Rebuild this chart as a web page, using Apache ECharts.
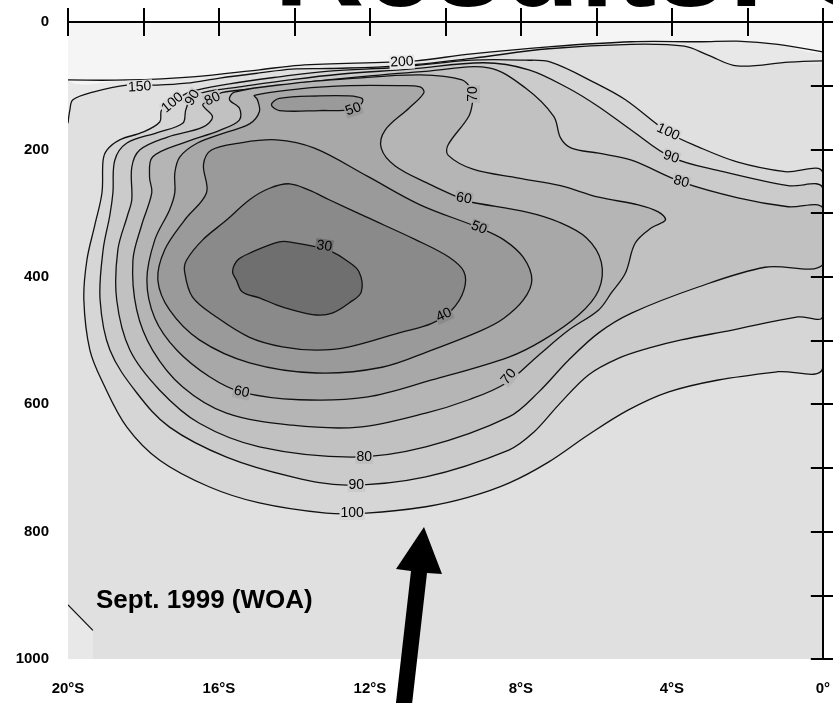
<!DOCTYPE html>
<html><head><meta charset="utf-8">
<script src="https://cdn.jsdelivr.net/npm/echarts@6/dist/echarts.min.js"></script>
<style>html,body{margin:0;padding:0;background:#fff}#c{width:833px;height:703px}</style>
</head><body><div id="c"></div>
<script>
// ---- axes ----
const latMin = -20, latMax = 0, depthMin = 0, depthMax = 1000;
const latTickValues = [-20, -16, -12, -8, -4, 0];
const latTickLabels = ['20°S', '16°S', '12°S', '8°S', '4°S', '0°'];
const depthTickLabels = [0, 200, 400, 600, 800, 1000];

// ---- contour lines [latitude, depth] ----
const c200 = [[-20,91],[-18.44,91],[-16.70,86],[-14.93,75],[-13.87,68],[-11.49,63],[-10.78,61],[-9.30,50],[-7.27,39],[-5.07,31],[-3.22,31],[-2.27,30],[-1.19,35],[0,47]];
const c150 = [[-20,159],[-19.95,138],[-19.87,122],[-19.34,110],[-18.44,99],[-17.65,99],[-16.86,96],[-15.98,88],[-14.93,80],[-14.06,74],[-13.08,73],[-11.23,69],[-9.30,57],[-7.27,42],[-5.07,35],[-3.67,38],[-3.04,52],[-2.27,69],[-0.90,63],[0,61]];
const c150corner = [[-20,915],[-19.34,955]];
const c100 = [[-17.23,126],[-16.78,110],[-15.72,97],[-14.40,86],[-13.08,77],[-11.23,71],[-9.30,60],[-7.87,60],[-7.21,63],[-6.02,96],[-5.23,122],[-4.10,173],[-3.30,196],[-2.25,220],[-1.00,235],[0,237],[0,543],[-1.19,549],[-2.77,562],[-4.10,581],[-5.15,609],[-6.21,648],[-7.27,691],[-8.32,724],[-9.38,746],[-10.52,761],[-12.10,771],[-13.16,771],[-14.93,755],[-16.25,730],[-17.57,688],[-18.44,636],[-19.07,567],[-19.42,515],[-19.58,436],[-19.50,374],[-19.29,319],[-19.10,268],[-19.07,217],[-18.97,201],[-18.63,185],[-18.02,173],[-17.57,157],[-17.52,138]];
const c90 = [[-16.73,119],[-16.38,110],[-15.46,102],[-14.13,91],[-12.81,82],[-10.96,74],[-8.98,64],[-7.79,75],[-6.74,104],[-5.94,133],[-5.07,170],[-4.02,212],[-2.64,235],[-0.92,257],[0,261],[0,462],[-0.66,463],[-2.43,484],[-3.75,499],[-4.62,512],[-5.42,528],[-6.21,554],[-7.00,601],[-7.66,644],[-8.32,672],[-10.52,714],[-12.63,727],[-14.06,714],[-15.80,683],[-17.31,636],[-18.18,582],[-18.89,515],[-19.15,436],[-19.07,358],[-18.89,303],[-18.81,268],[-18.76,217],[-18.44,190],[-17.65,174],[-16.96,159],[-16.88,138]];
const c80 = [[-16.20,122],[-15.93,111],[-14.93,104],[-13.61,94],[-12.29,86],[-10.44,77],[-8.85,72],[-7.87,104],[-7.13,148],[-6.95,182],[-6.66,198],[-5.94,206],[-5.07,217],[-3.75,251],[-2.25,276],[-0.92,290],[0,292],[0,381],[-1.53,385],[-3.30,416],[-5.07,457],[-5.94,488],[-6.74,531],[-7.53,581],[-8.32,620],[-10.52,667],[-12.47,683],[-14.93,667],[-16.52,630],[-17.57,578],[-18.36,515],[-18.71,436],[-18.68,358],[-18.42,303],[-18.31,279],[-18.31,228],[-18.10,201],[-17.38,181],[-16.43,165],[-16.17,149],[-16.43,130]];
const c70 = [[-15.59,110],[-14.13,97],[-12.55,89],[-10.67,83],[-9.56,91],[-9.27,110],[-9.27,122],[-9.38,148],[-9.93,193],[-9.93,209],[-9.27,231],[-8.06,245],[-6.95,257],[-5.94,275],[-4.89,287],[-4.36,298],[-4.17,311],[-4.54,323],[-4.97,347],[-5.23,394],[-5.60,425],[-5.94,452],[-6.74,484],[-7.53,523],[-8.40,567],[-9.38,593],[-10.52,614],[-12.29,636],[-14.06,633],[-15.80,614],[-16.96,573],[-17.76,515],[-18.18,452],[-18.28,374],[-18.05,319],[-17.78,268],[-17.84,243],[-17.76,212],[-16.96,190],[-15.98,170],[-15.46,154],[-15.46,135],[-15.72,122]];
const c60 = [[-15.06,115],[-13.87,105],[-12.55,100],[-11.23,100],[-10.67,102],[-10.57,111],[-10.96,135],[-11.60,170],[-11.70,198],[-11.33,226],[-10.44,254],[-9.75,273],[-9.46,281],[-7.87,298],[-7.00,314],[-6.26,339],[-5.87,377],[-5.94,421],[-6.47,460],[-7.40,499],[-8.32,526],[-10.36,562],[-12.10,589],[-13.87,593],[-15.40,581],[-16.25,557],[-17.12,515],[-17.70,465],[-17.91,405],[-17.70,342],[-17.31,295],[-17.17,268],[-17.17,237],[-17.04,212],[-16.57,190],[-15.85,174],[-15.19,160],[-14.93,141],[-14.98,122]];
const c50 = [[-16.33,268],[-16.41,224],[-16.20,201],[-15.46,190],[-14.48,185],[-13.47,198],[-12.07,242],[-10.67,287],[-9.11,323],[-8.45,342],[-7.93,370],[-7.71,405],[-7.93,436],[-8.45,465],[-9.04,484],[-10.36,515],[-11.68,542],[-13.42,551],[-15.19,535],[-16.52,499],[-17.31,452],[-17.62,405],[-17.44,358],[-16.91,311]];
const c50upper = [[-14.61,130],[-14.40,120],[-13.34,116],[-12.55,116],[-12.21,120],[-12.21,127],[-12.44,137],[-13.34,139],[-14.40,139]];
const c40 = [[-16.86,374],[-16.43,342],[-15.80,311],[-15.19,279],[-14.66,261],[-14.13,254],[-13.61,264],[-13.08,279],[-12.10,306],[-10.78,342],[-9.91,369],[-9.51,392],[-9.51,421],[-9.83,452],[-10.36,473],[-11.23,488],[-12.55,510],[-13.42,515],[-14.32,510],[-15.19,495],[-16.07,463],[-16.70,432],[-16.91,392]];
const c30 = [[-15.64,392],[-15.51,374],[-15.19,363],[-14.40,345],[-13.95,347],[-13.42,353],[-13.00,361],[-12.63,374],[-12.29,392],[-12.23,424],[-12.55,441],[-13.00,457],[-13.42,460],[-14.06,452],[-14.48,444],[-14.93,433],[-15.38,424],[-15.54,405]];

// ---- contour labels: text, latitude, depth, angle ----
const labelText  = ['150','100','90','80','200','50','70','100','90','80','60','50','30','40','60','70','80','90','100'];
const labelLat   = [-18.10,-17.23,-16.70,-16.17,-11.15,-12.44,-9.27,-4.10,-4.02,-3.75,-9.51,-9.11,-13.21,-10.04,-15.40,-8.32,-12.15,-12.36,-12.47];
const labelDepth = [102,127,119,121,63,137,113,173,212,251,277,323,352,460,581,557,683,727,771];
const labelAngle = [3,40,58,25,3,20,90,-25,-18,-15,-10,-22,-8,25,-12,50,0,0,0];

// ---- styling ----
const shade = {'>200':'#f5f5f5','150-200':'#e8e8e8','100-150':'#e0e0e0',
  '100':'#d6d6d6','90':'#cbcbcb','80':'#c1c1c1','70':'#b5b5b5','60':'#a8a8a8','50':'#9a9a9a','40':'#8a8a8a','30':'#6f6f6f'};
const LINE = '#111';
const LW = 1.3;

const shapes = [
  {line:c150, closure:[[0,0],[-20,0]], color:shade['150-200']},
  {line:c200, closure:[[0,0],[-20,0]], color:shade['>200']},
  {line:c150corner, closure:[[-19.34,1000],[-20,1000]], color:shade['150-200'], straight:true},
  {line:c100, color:shade['100']},
  {line:c90, color:shade['90']},
  {line:c80, color:shade['80']},
  {line:c70, color:shade['70']},
  {line:c60, color:shade['60']},
  {line:c50, color:shade['50']},
  {line:c50upper, color:shade['50']},
  {line:c40, color:shade['40']},
  {line:c30, color:shade['30']}
];

function renderShape(params, api){
  const s = shapes[params.dataIndex];
  const pts = s.line.map(p => api.coord(p));
  const sm = s.straight ? 0 : 0.35;
  if (s.closure){
    const fillPts = pts.concat(s.closure.map(p => api.coord(p)));
    return {type:'group', children:[
      {type:'polygon', shape:{points:fillPts, smooth:sm}, style:{fill:s.color, stroke:null, lineWidth:0}},
      {type:'polyline', shape:{points:pts, smooth:sm}, style:{fill:null, stroke:LINE, lineWidth:LW}}
    ]};
  }
  return {type:'polygon', shape:{points:pts, smooth:sm}, style:{fill:s.color, stroke:LINE, lineWidth:LW}};
}

function labelBg(t){
  if (t === '200') return shade['150-200'];
  if (t === '150') return shade['100-150'];
  return shade[t];
}
function renderLabel(params, api){
  const i = params.dataIndex;
  const p = api.coord([labelLat[i], labelDepth[i]]);
  return {type:'text', x:p[0], y:p[1], rotation:labelAngle[i]*Math.PI/180,
    style:{text:labelText[i], x:0, y:0, align:'center', verticalAlign:'middle',
      font:'14px "Liberation Sans"', fill:'#000', backgroundColor:labelBg(labelText[i]), padding:[0,1]}};
}

// big slide title, mostly above the page: place glyph bottoms just under the top edge
const TITLE_FONT = 'bold 125px "Liberation Sans"';
const mctx = document.createElement('canvas').getContext('2d');
mctx.font = TITLE_FONT; mctx.textBaseline = 'middle';
const titleDesc = mctx.measureText('Results').actualBoundingBoxDescent || 40;
const titleMidY = 7 - titleDesc;

const axisFont = {color:'#000', fontWeight:'bold', fontSize:15, fontFamily:'"Liberation Sans", Arial, sans-serif'};
function fmtLat(v){ const k = latTickValues.indexOf(v); return k >= 0 ? latTickLabels[k] : ''; }
function fmtDepth(v){ return depthTickLabels.indexOf(v) >= 0 ? String(v) : ''; }
const axLine = {lineStyle:{color:'#000', width:2}};

const chart = echarts.init(document.getElementById('c'), null, {renderer:'canvas'});
chart.setOption({
  animation:false,
  backgroundColor:'#ffffff',
  grid:{left:68, top:22, width:757, height:637, show:true, backgroundColor:shade['100-150'], borderWidth:0},
  xAxis:[
    {type:'value', min:latMin, max:latMax, interval:2, position:'bottom', z:10, axisLine:axLine,
     axisTick:{length:14, lineStyle:{color:'#000', width:2}},
     axisLabel:Object.assign({margin:22, formatter:fmtLat}, axisFont), splitLine:{show:false}},
    {type:'value', min:latMin, max:latMax, interval:2, position:'top', z:10, axisLine:axLine,
     axisTick:{length:14, lineStyle:{color:'#000', width:2}}, axisLabel:{show:false}, splitLine:{show:false}}
  ],
  yAxis:[
    {type:'value', inverse:true, min:depthMin, max:depthMax, interval:100, position:'left', z:10, axisLine:axLine,
     axisTick:{length:12, lineStyle:{color:'#000', width:2}},
     axisLabel:Object.assign({margin:19, formatter:fmtDepth}, axisFont), splitLine:{show:false}},
    {type:'value', inverse:true, min:depthMin, max:depthMax, interval:100, position:'right', z:10, axisLine:axLine,
     axisTick:{length:12, lineStyle:{color:'#000', width:2}}, axisLabel:{show:false}, splitLine:{show:false}}
  ],
  series:[
    {type:'custom', clip:true, xAxisIndex:0, yAxisIndex:0, z:2,
     data: shapes.map(s => s.line[0]), renderItem: renderShape},
    {type:'custom', clip:true, xAxisIndex:0, yAxisIndex:0, z:4,
     data: labelLat.map((v,i) => [v, labelDepth[i]]), renderItem: renderLabel}
  ],
  graphic:[
    {type:'text', x:274, y:titleMidY, z:20, style:{text:'Results: O', x:0, y:0, verticalAlign:'middle', align:'left', font:TITLE_FONT, fill:'#000'}},
    {type:'text', left:96, top:588, z:20, style:{text:'Sept. 1999 (WOA)', font:'bold 26px "Liberation Sans"', fill:'#000'}},
    {type:'polygon', z:20, shape:{points:[[394,720],[410,722],[427,573],[442,574],[424,527],[396,569],[411,571]]}, style:{fill:'#000'}}
  ]
});
</script></body></html>
